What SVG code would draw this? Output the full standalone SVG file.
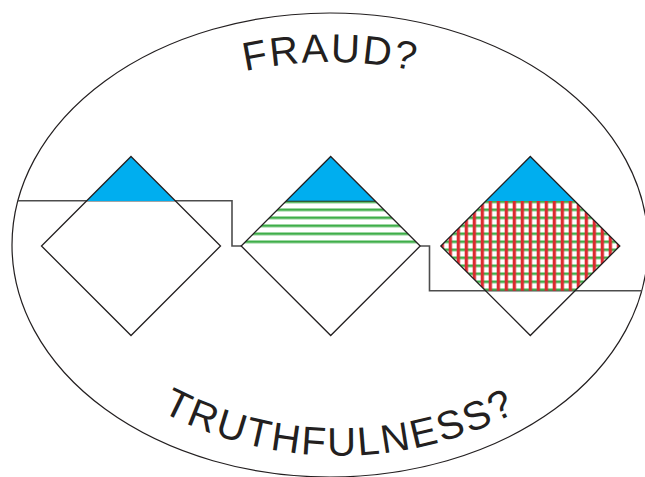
<svg xmlns="http://www.w3.org/2000/svg" width="645" height="477" viewBox="0 0 645 477">
  <style>
    .outline { fill: none; stroke: #231f20; stroke-width: 1.3; }
    .step { fill: none; stroke: #4d4d4d; stroke-width: 1.6; }
    .blue { fill: #00aeef; }
    .label { font-family: "Liberation Sans", Arial, Helvetica, sans-serif; font-size: 40px; fill: #231f20; }
  </style>
  <defs>
    <pattern id="greenStripes" patternUnits="userSpaceOnUse" x="0" y="200.5" width="8" height="8">
      <rect x="0" y="0" width="8" height="2.6" fill="#3fae49"/>
    </pattern>
    <pattern id="hatch" patternUnits="userSpaceOnUse" x="448.7" y="200.5" width="8" height="8">
      <rect x="0" y="0" width="8" height="2.6" fill="#3fae49"/>
      <rect x="0" y="0" width="3.3" height="8" fill="#dc2a30"/>
    </pattern>
    <path id="arcTop" d="M 180.5 91.2 A 400 400 0 0 1 480.5 91.2"/>
    <path id="arcBottom" d="M 119.5 385.5 A 380 380 0 0 0 559.5 385.5"/>
  </defs>

  <rect x="0" y="0" width="645" height="477" fill="#ffffff"/>

  <g id="boundary">
    <ellipse cx="330" cy="245" rx="318" ry="232" fill="none" stroke="#231f20" stroke-width="1.2"/>
  </g>

  <g id="connectors">
    <path class="step" d="M 18 200.7 H 232 V 246 H 241.2"/>
    <path class="step" d="M 420.2 246 H 429.5 V 290.7 H 642"/>
  </g>

  <g id="diamond-1">
    <polygon class="blue" points="131,156.5 86.5,201 175.5,201"/>
    <polygon class="outline" points="131,156.5 220.5,246 131,335.5 41.5,246"/>
  </g>

  <g id="diamond-2">
    <polygon class="blue" points="330.7,156.5 286.2,201 375.2,201"/>
    <polygon fill="url(#greenStripes)" points="286.2,201 375.2,201 420.2,246 241.2,246"/>
    <line x1="286.2" y1="201.2" x2="375.2" y2="201.2" stroke="#2b3b2e" stroke-width="1"/>
    <polygon class="outline" points="330.7,156.5 420.2,246 330.7,335.5 241.2,246"/>
  </g>

  <g id="diamond-3">
    <polygon class="blue" points="530.3,156.5 485.8,201 574.8,201"/>
    <polygon fill="url(#hatch)" points="485.8,201 574.8,201 619.8,246 575.1,290.7 485.5,290.7 440.8,246"/>
    <polygon class="outline" points="530.3,156.5 619.8,246 530.3,335.5 440.8,246"/>
  </g>

  <g id="label-fraud">
    <text class="label" letter-spacing="2"><textPath href="#arcTop" startOffset="50%" text-anchor="middle">FRAUD?</textPath></text>
  </g>

  <g id="label-truthfulness">
    <text class="label" font-size="42" letter-spacing="2.2"><textPath href="#arcBottom" startOffset="50%" text-anchor="middle">TRUTHFULNESS?</textPath></text>
  </g>
</svg>
